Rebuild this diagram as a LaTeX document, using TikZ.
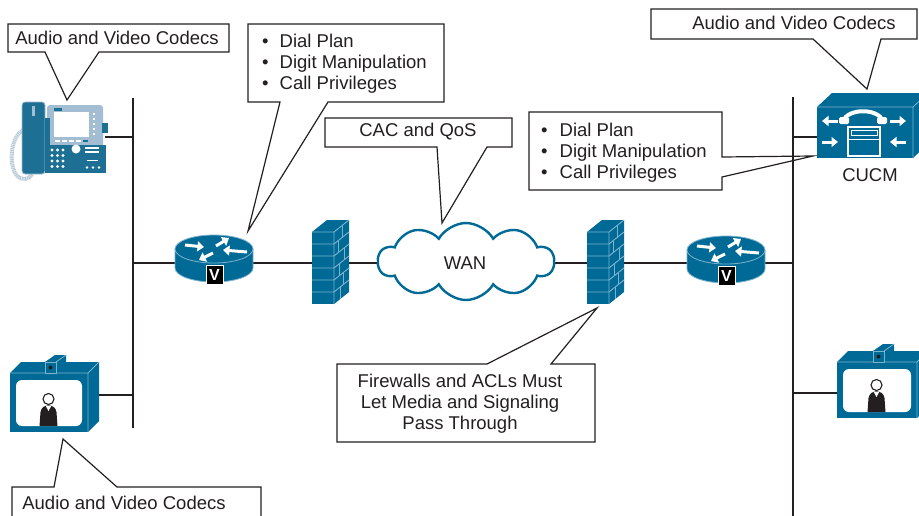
\documentclass[tikz,border=0pt]{standalone}
\usepackage{fontspec}
\setmainfont{Liberation Sans}
\usetikzlibrary{arrows.meta,shapes.symbols}

\definecolor{ciscoblue}{RGB}{0,106,150}
\definecolor{edgeblue}{RGB}{125,178,206}
\definecolor{phonelight}{RGB}{163,189,210}
\definecolor{phonedark}{RGB}{29,111,147}
\definecolor{cordblue}{RGB}{185,204,218}
\definecolor{ink}{RGB}{35,31,32}

\tikzset{
  callout/.style={draw=ink, line width=1.2pt, fill=white, line join=miter},
  txt/.style={font=\fontsize{18.5}{21}\selectfont, text=ink, inner sep=0pt},
  netwire/.style={draw=ink, line width=2.6pt},
  edgeline/.style={draw=edgeblue, line width=0.8pt, line join=round},
  brick/.style={draw=edgeblue, line width=0.9pt},
  wharrow/.style={draw=white, line width=3pt, -{Triangle[length=6.5pt,width=10pt]}},
  vbadge/.style={fill=black, draw=white, line width=1pt, minimum width=17, minimum height=19,
    inner sep=0pt, text=white, font=\bfseries\fontsize{16}{16}\selectfont},
}

% brick firewall, origin = front top-left corner
\newcommand{\brickwall}[2]{%
  \begin{scope}[shift={(#1,#2)}]
    \fill[ciscoblue] (0,0) rectangle (22,72);
    \fill[ciscoblue] (0,0) -- (15,-12) -- (37,-12) -- (22,0) -- cycle;
    \fill[ciscoblue] (22,0) -- (37,-12) -- (37,60) -- (22,72) -- cycle;
    \foreach \y in {12,24,36,48,60} {\draw[brick] (0,\y) -- (22,\y) -- (37,\y-12);}
    \draw[brick] (0,0) -- (22,0) -- (37,-12) (22,0) -- (22,72);
    \foreach \y/\x in {0/30,12/26,24/32,36/27,48/31,60/28}
      {\draw[brick] (\x,{\y-(\x-22)*0.8}) -- (\x,{\y+12-(\x-22)*0.8});}
  \end{scope}}

% voice router, origin = centre of the top ellipse
\newcommand{\voicerouter}[2]{%
  \begin{scope}[shift={(#1,#2)}]
    \fill[ciscoblue] (-39,0) -- (-39,19) arc[start angle=180, end angle=0, x radius=39, y radius=14] -- (39,0) -- cycle;
    \draw[edgeline] (-39,0) -- (-39,19) arc[start angle=180, end angle=0, x radius=39, y radius=14] -- (39,0);
    \filldraw[fill=ciscoblue, draw=edgeblue, line width=0.8pt] (0,0) ellipse[x radius=39, y radius=14];
    \draw[wharrow] (-29,-4) -- (-10,-2);
    \draw[wharrow] (2,-3) -- (15,-11);
    \draw[wharrow] (33,3) -- (9,1);
    \draw[wharrow] (-1,4) -- (-15,11);
    \node[vbadge] at (0.5,25.5) {V};
  \end{scope}}

% video endpoint, origin = front top-left corner, #3 width, #4 height
\newcommand{\videounit}[4]{%
  \begin{scope}[shift={(#1,#2)}]
    \fill[ciscoblue] (0,0) rectangle (#3,#4);
    \fill[ciscoblue] (0,0) -- (11,-11) -- (#3+11,-11) -- (#3,0) -- cycle;
    \fill[ciscoblue] (#3,0) -- (#3+11,-11) -- (#3+11,#4-11) -- (#3,#4) -- cycle;
    \draw[edgeline] (0,0) -- (#3,0) -- (#3+11,-11) (#3,0) -- (#3,#4);
    \fill[white, rounded corners=6pt] (6,7) rectangle (#3-6,#4-6);
    \begin{scope}[shift={(#3/2-0.5,#4-6)}]
      \fill[ink] (-9,0) -- (-8,-14) .. controls (-7,-19) and (-4,-20) .. (0,-21)
        .. controls (4,-20) and (7,-19) .. (8,-14) -- (9,0) -- cycle;
      \fill[white] (-3,-20.5) -- (0,-15) -- (3,-20.5) -- cycle;
      \draw[ink, fill=white, line width=1.1pt] (0,-27) circle (5.5);
    \end{scope}
    \begin{scope}[shift={(#3/2-4,0)}]
      \fill[ciscoblue] (0,-11) -- (10,-18) -- (21,-18) -- (11,-11) -- cycle;
      \fill[ciscoblue] (11,-11) -- (21,-18) -- (21,-7) -- (11,0) -- cycle;
      \filldraw[fill=ciscoblue, draw=edgeblue, line width=0.7pt] (0,-11) rectangle (11,0);
      \draw[edgeline] (11,-11) -- (21,-18);
      \fill[ink] (5.5,-5.5) circle (2);
    \end{scope}
  \end{scope}}

\begin{document}
\begin{tikzpicture}[x=1pt,y=-1pt]
\useasboundingbox (0,0) rectangle (919,515);
\clip (0,0) rectangle (919,515);
\fill[white] (0,0) rectangle (919,515);

% ---------- callouts ----------
\draw[callout] (8,24) -- (229,24) -- (229,52) -- (99,52) -- (67,100) -- (45,52) -- (8,52) -- cycle;
\node[txt] (codecsTL) at (117,38) {Audio and Video Codecs};

\draw[callout] (248,24) -- (444,24) -- (444,102) -- (328,102) -- (248,231) -- (280,102) -- (248,102) -- cycle;
\node[txt, align=left, anchor=west] (featL) at (262,64)
  {\makebox[17.5pt][l]{•}Dial Plan\\\makebox[17.5pt][l]{•}Digit Manipulation\\\makebox[17.5pt][l]{•}Call Privileges};

\draw[callout] (325,118) -- (512,118) -- (512,147) -- (487,147) -- (442,223) -- (437,147) -- (325,147) -- cycle;
\node[txt] (cac) at (418,132) {CAC and QoS};

\draw[callout] (651,9) -- (917,9) -- (917,39) -- (881,39) -- (867,89) -- (813,39) -- (651,39) -- cycle;
\node[txt] (codecsTR) at (794,23) {Audio and Video Codecs};

\draw[callout] (529,112) -- (722,112) -- (722,157) -- (813,156) -- (722,177) -- (722,190) -- (529,190) -- cycle;
\node[txt, align=left, anchor=west] (featR) at (541,153)
  {\makebox[18.5pt][l]{•}Dial Plan\\\makebox[18.5pt][l]{•}Digit Manipulation\\\makebox[18.5pt][l]{•}Call Privileges};

\draw[callout] (337,364) -- (487,364) -- (597,308) -- (551,364) -- (595,364) -- (595,442) -- (337,442) -- cycle;
\node[txt, align=center] (fwnote) at (460,404)
  {Firewalls and ACLs Must\\Let Media and Signaling\\Pass Through};

\draw[callout] (12,487) -- (54,487) -- (63,439) -- (117,487) -- (261,487) -- (261,530) -- (12,530) -- cycle;
\node[txt] (codecsBL) at (124,503) {Audio and Video Codecs};

% ---------- attachment points ----------
\coordinate (busLtop) at (133,98);
\coordinate (busLbot) at (133,428);
\coordinate (busRtop) at (793,97);
\coordinate (busRbot) at (793,516);
\coordinate (phonePort) at (105,137);
\coordinate (busLphone) at (133,137);
\coordinate (videoLPort) at (97,395);
\coordinate (busLvideo) at (133,395);
\coordinate (busLrouter) at (133,263);
\coordinate (routerLw) at (177,263);
\coordinate (routerLe) at (251,263);
\coordinate (fwLw) at (314,263);
\coordinate (fwLe) at (347,263);
\coordinate (wanW) at (380,263);
\coordinate (wanE) at (553,263);
\coordinate (fwRw) at (589,263);
\coordinate (fwRe) at (622,263);
\coordinate (routerRw) at (689,263);
\coordinate (routerRe) at (763,263);
\coordinate (busRrouter) at (793,263);
\coordinate (busRcucm) at (793,137);
\coordinate (cucmPort) at (819,137);
\coordinate (busRvideo) at (793,393);
\coordinate (videoRPort) at (839,393);

% ---------- wiring ----------
\draw[netwire] (busLtop) -- (busLbot);
\draw[netwire] (busRtop) -- (busRbot);
\draw[netwire] (phonePort) -- (busLphone);
\draw[netwire] (videoLPort) -- (busLvideo);
\draw[netwire] (busLrouter) -- (routerLw);
\draw[netwire] (routerLe) -- (fwLw);
\draw[netwire] (fwLe) -- (wanW);
\draw[netwire] (wanE) -- (fwRw);
\draw[netwire] (fwRe) -- (routerRw);
\draw[netwire] (routerRe) -- (busRrouter);
\draw[netwire] (busRcucm) -- (cucmPort);
\draw[netwire] (busRvideo) -- (videoRPort);

% ---------- IP phone ----------
\draw[cordblue, line width=4pt, dash pattern=on 1.2pt off 0.6pt]
  (23,130) .. controls (9,138) and (8,172) .. (20,178) .. controls (28,181) and (33,176) .. (33,170);
\draw[fill=phonedark, draw=phonelight, line width=0.8pt, rounded corners=3pt] (22,102) rectangle (45,174);
\fill[phonelight] (31.5,106) rectangle (34.5,116);
\fill[phonelight, rounded corners=3pt] (47,105) rectangle (103,147);
\fill[phonedark] (45,145) rectangle (106,173);
\fill[phonedark] (45,118) rectangle (50,146);
\fill[white] (54,112) rectangle (89,137);
\fill[phonedark] (54,108) rectangle (62,110.5);
\foreach \y in {113,118,123,128,133} {\fill[white] (92.5,\y) rectangle (95,\y+2);}
\foreach \x in {55,62,69,76} {\fill[white] (\x,140) rectangle (\x+5,141.5);}
\fill[phonedark] (83,140) rectangle (88,141.5);
\foreach \x in {52,57.5,63} {\foreach \y in {150,155.5,161,166.5} {\fill[white] (\x,\y) circle (1.7);}}
\fill[white] (76,149) circle (4.5);
\foreach \y in {148,152} {\fill[white] (85,\y-1) rectangle (99,\y+0.5);}
\fill[white] (87,159.5) rectangle (98,161);
\foreach \x in {87,93,99} {\fill[white] (\x,167.5) circle (1.3);}
\fill[phonedark] (102,123) rectangle (108,133);

% ---------- routers, firewalls, WAN ----------
\voicerouter{214}{249}
\voicerouter{726}{250}
\brickwall{312}{232}
\brickwall{587}{232}
\node[cloud, cloud puffs=10, cloud puff arc=120, aspect=2.25, draw=ciscoblue, line width=2.4pt,
  fill=white, minimum width=176, minimum height=77, inner sep=0pt] (wan) at (466,261.5) {};
\node[txt] (wanlabel) at (465,263) {WAN};

% ---------- CUCM ----------
\fill[ciscoblue] (817,107) rectangle (913,158);
\fill[ciscoblue] (817,107) -- (832,93) -- (928,93) -- (913,107) -- cycle;
\fill[ciscoblue] (913,107) -- (928,93) -- (928,144) -- (913,158) -- cycle;
\draw[edgeline] (817,107) -- (913,107) -- (928,93) (913,107) -- (913,158);
\draw[white, line width=4pt] (843,121) .. controls (848,108) and (878,108) .. (883,121);
\fill[white, rounded corners=1.5pt] (839,117) rectangle (849,124);
\fill[white, rounded corners=1.5pt] (877,117) rectangle (887,124);
\draw[white, line width=1.2pt] (848,127) rectangle (880,156);
\draw[white, line width=1pt] (851,130) rectangle (877,135);
\draw[white, line width=1pt] (848,139) -- (880,139);
\draw[wharrow] (838,121) -- (822,121);
\draw[wharrow] (822,142) -- (838,142);
\draw[wharrow] (890,121) -- (906,121);
\draw[wharrow] (906,142) -- (890,142);
\node[txt] (cucmlabel) at (870,175) {CUCM};

% ---------- video endpoints ----------
\videounit{10}{373}{78}{59}
\videounit{837}{362}{80}{56}

\end{tikzpicture}
\end{document}
